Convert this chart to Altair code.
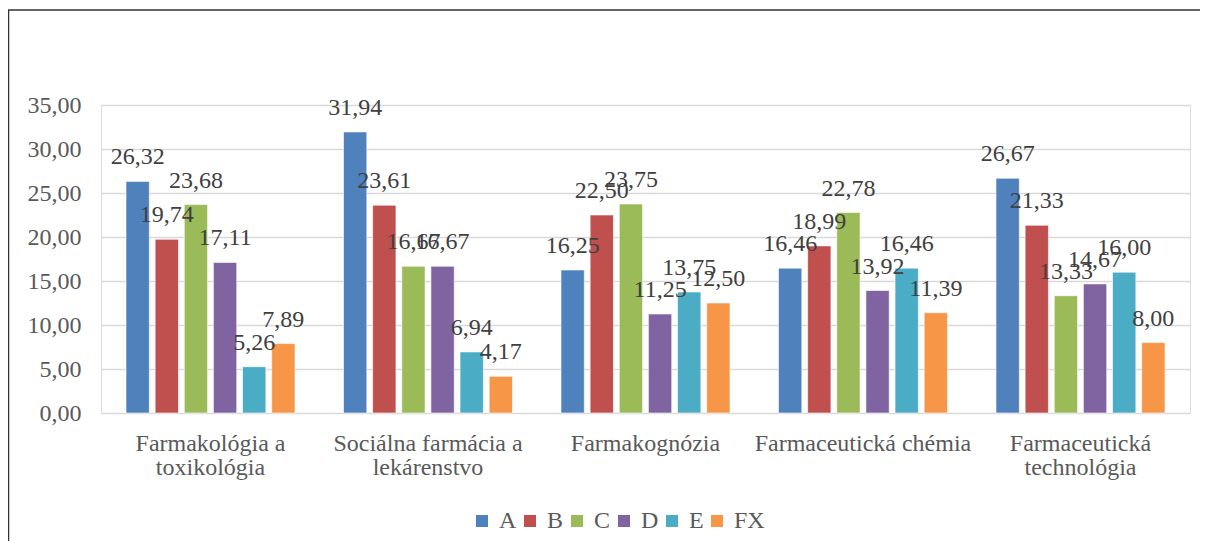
import altair as alt
import pandas as pd
import json

categories = [
    "Farmakológia a toxikológia",
    "Sociálna farmácia a lekárenstvo",
    "Farmakognózia",
    "Farmaceutická chémia",
    "Farmaceutická technológia",
]
wrapped = {
    "Farmakológia a toxikológia": ["Farmakológia a", "toxikológia"],
    "Sociálna farmácia a lekárenstvo": ["Sociálna farmácia a", "lekárenstvo"],
    "Farmakognózia": ["Farmakognózia"],
    "Farmaceutická chémia": ["Farmaceutická chémia"],
    "Farmaceutická technológia": ["Farmaceutická", "technológia"],
}
series = ["A", "B", "C", "D", "E", "FX"]
colors = ["#4f81bd", "#c0504d", "#9bbb59", "#8064a2", "#4bacc6", "#f79646"]

A = [26.32, 31.94, 16.25, 16.46, 26.67]
B = [19.74, 23.61, 22.50, 18.99, 21.33]
C = [23.68, 16.67, 23.75, 22.78, 13.33]
D = [17.11, 16.67, 11.25, 13.92, 14.67]
E = [5.26, 6.94, 13.75, 16.46, 16.00]
FX = [7.89, 4.17, 12.50, 11.39, 8.00]
y_ticks = [0, 5, 10, 15, 20, 25, 30, 35]

vals = {"A": A, "B": B, "C": C, "D": D, "E": E, "FX": FX}
rows = []
for s in series:
    for c, v in zip(categories, vals[s]):
        rows.append({"cat": c, "series": s, "value": v})
df = pd.DataFrame(rows)

FONT = "'Liberation Serif', 'Times New Roman', 'DejaVu Serif', serif"
FS = 24
label_expr = "(" + json.dumps(wrapped, ensure_ascii=False) + ")[datum.label]"

x_enc = alt.X(
    "cat:N",
    sort=categories,
    scale=alt.Scale(paddingInner=0.223, paddingOuter=0.115),
    axis=alt.Axis(
        title=None, labelAngle=0, domain=False, ticks=False,
        labelFont=FONT, labelFontSize=FS, labelColor="#595959",
        labelPadding=18, labelExpr=label_expr, labelLineHeight=24,
        labelLimit=400,
    ),
)
xo_enc = alt.XOffset("series:N", sort=series, scale=alt.Scale(paddingInner=0.2, paddingOuter=0))
y_enc = alt.Y(
    "value:Q",
    scale=alt.Scale(domain=[0, 35], nice=False),
    axis=alt.Axis(
        title=None, values=y_ticks, domain=False, ticks=False,
        labelFont=FONT, labelFontSize=FS, labelColor="#595959", labelPadding=20,
        labelExpr="replace(format(datum.value, '.2f'), '.', ',')",
        gridColor="#d9d9d9", gridWidth=1.5,
    ),
)

base = alt.Chart(df)

bars = base.mark_bar(stroke="white", strokeWidth=0.6).encode(
    x=x_enc,
    xOffset=xo_enc,
    y=y_enc,
    color=alt.Color(
        "series:N", sort=series,
        scale=alt.Scale(domain=series, range=colors),
        legend=alt.Legend(
            title=None, orient="none", legendX=369, legendY=404,
            direction="horizontal", symbolType="square", symbolSize=144,
            symbolStrokeWidth=0, labelFont=FONT, labelFontSize=FS,
            labelColor="#595959", labelOffset=5, columnPadding=1, padding=0,
        ),
    ),
)

labels = base.transform_calculate(
    lbl="replace(format(datum.value, '.2f'), '.', ',')"
).mark_text(
    font=FONT, fontSize=FS, color="#404040", baseline="bottom", dy=-12
).encode(
    x=alt.X("cat:N", sort=categories),
    xOffset=alt.XOffset("series:N", sort=series),
    y="value:Q",
    text="lbl:N",
)

border = alt.Chart(pd.DataFrame({"k": [0]})).mark_rect(
    fill=None, stroke="#333333", strokeWidth=1.5
).encode(
    x=alt.value(-92.5), x2=alt.value(1300),
    y=alt.value(-95), y2=alt.value(700),
)

chart = alt.layer(bars, labels, border).properties(
    width=1089, height=308,
    padding={"left": 93, "top": 97, "right": 10, "bottom": 128},
    autosize=alt.AutoSizeParams(type="none"),
).configure_view(stroke=None).configure(background="white")

chart.save("out.html", embed_options={"renderer": "svg", "actions": False})
